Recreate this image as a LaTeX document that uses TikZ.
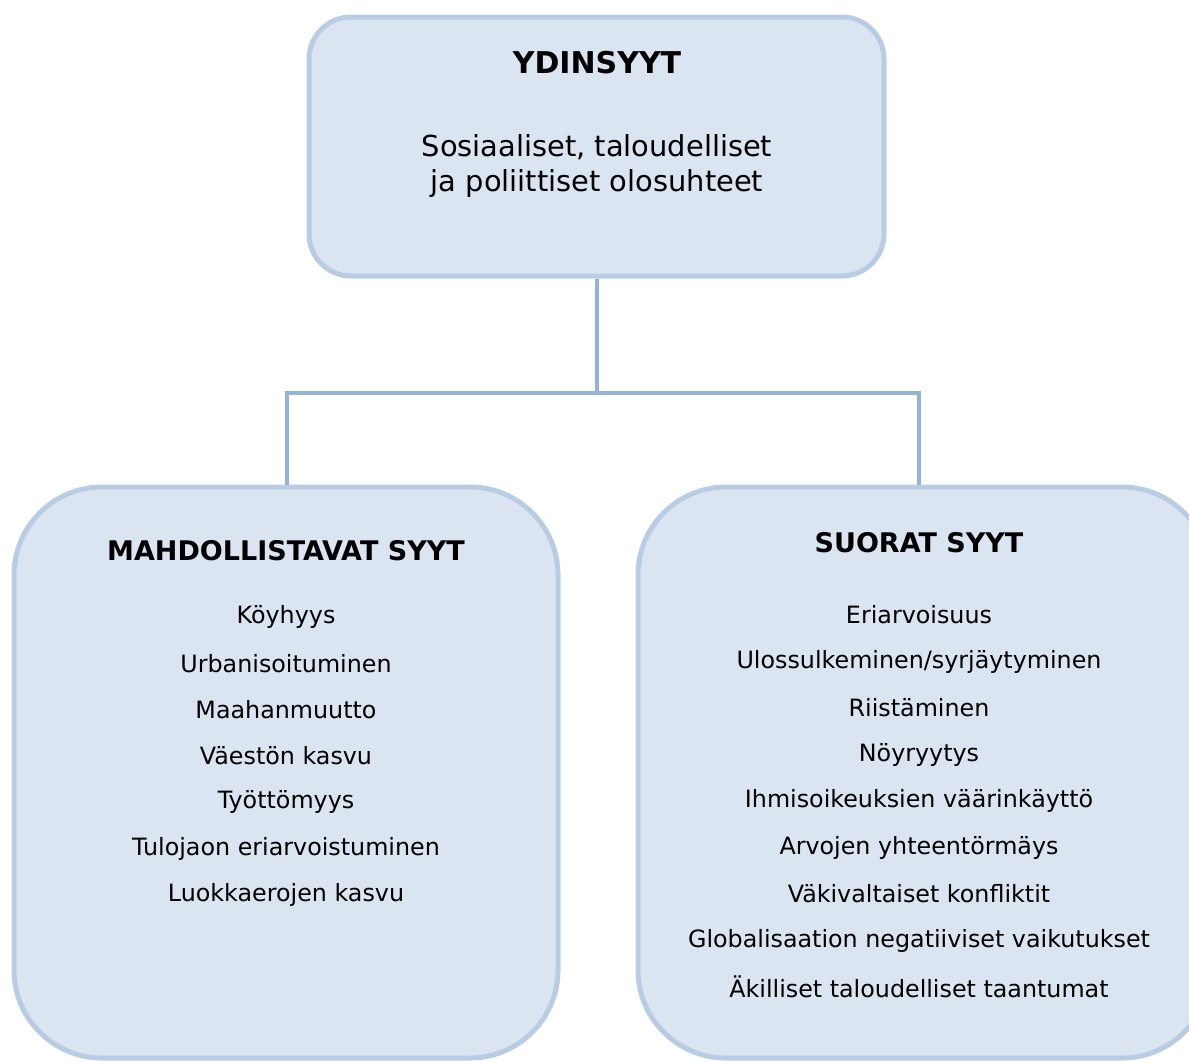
\documentclass[tikz,border=0pt]{standalone}
\usepackage{fontspec}
\setmainfont{DejaVu Sans}
\definecolor{boxfill}{HTML}{DBE5F1}
\definecolor{boxline}{HTML}{B8CCE4}
\definecolor{conn}{HTML}{95B3D7}
\begin{document}
\begin{tikzpicture}[x=1pt,y=-1pt,
  causebox/.style={draw=boxline,fill=boxfill,line width=5pt},
  connector/.style={draw=conn,line width=3.5pt},
  head/.style={font=\fontsize{27}{32}\selectfont\bfseries,anchor=center},
  toptext/.style={font=\fontsize{28.9}{34}\selectfont,anchor=center},
  item/.style={font=\fontsize{23.8}{28}\selectfont,anchor=center}]
\useasboundingbox (0,0) rectangle (1189,1061);
% boxes
\path[causebox,rounded corners=42pt] (309,17) rectangle (884,276);
\path[causebox,rounded corners=88pt] (14,487) rectangle (558,1058);
\path[causebox,rounded corners=88pt] (638,487) rectangle (1210,1058);
\coordinate (topb) at (597,279);
\coordinate (junc) at (597,393);
\coordinate (jl) at (287,393);
\coordinate (jr) at (919,393);
\coordinate (lt) at (287,485);
\coordinate (rt) at (919,485);
\path[connector] (topb) -- (junc);
\path[connector] (lt) -- (jl) -- (jr) -- (rt);
% top text
\node[head,font=\fontsize{30}{34}\selectfont\bfseries] (ydin) at (597,63) {YDINSYYT};
\node[toptext] (t1) at (597,147) {Sosiaaliset, taloudelliset};
\node[toptext] (t2) at (597,184) {ja poliittiset olosuhteet};
% left
\node[head] (mah) at (286,551) {MAHDOLLISTAVAT SYYT};
\foreach \t [count=\i] in {Köyhyys,Urbanisoituminen,Maahanmuutto,Väestön kasvu,Työttömyys,Tulojaon eriarvoistuminen,Luokkaerojen kasvu}
  \node[item] (l\i) at (286,{617+46.3*(\i-1)}) {\t};
% right
\node[head] (suo) at (919,543) {SUORAT SYYT};
\foreach \t [count=\i] in {Eriarvoisuus,Ulossulkeminen/syrjäytyminen,Riistäminen,Nöyryytys,Ihmisoikeuksien väärinkäyttö,Arvojen yhteentörmäys,Väkivaltaiset konfliktit,Globalisaation negatiiviset vaikutukset,Äkilliset taloudelliset taantumat}
  \node[item] (r\i) at (919,{615+46.5*(\i-1)}) {\t};
\end{tikzpicture}
\end{document}
